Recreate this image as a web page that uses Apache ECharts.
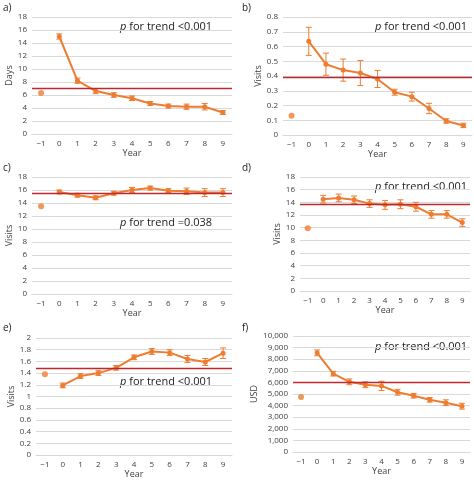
<!DOCTYPE html>
<html><head><meta charset="utf-8">
<script src="https://cdn.jsdelivr.net/npm/echarts@6/dist/echarts.min.js"></script>
<style>html,body{margin:0;padding:0;background:#fff}#c{width:474px;height:482px}</style>
</head><body><div id="c"></div>
<script>
const years = ['\u22121','0','1','2','3','4','5','6','7','8','9'];
const aBase = 6.3, aVals = [15.0,8.2,6.6,6.0,5.5,4.7,4.3,4.2,4.2,3.3], aErr = [0.4,0.4,0.4,0.35,0.35,0.3,0.3,0.4,0.5,0.3], aRef = 7.0;
const bBase = 0.13, bVals = [0.635,0.48,0.44,0.42,0.38,0.29,0.26,0.18,0.095,0.065], bErr = [0.095,0.075,0.075,0.085,0.058,0.02,0.03,0.035,0.015,0.015], bRef = 0.385;
const cBase = 13.5, cVals = [15.7,15.2,14.8,15.5,16.0,16.3,15.9,15.8,15.6,15.6], cErr = [0.3,0.3,0.3,0.3,0.4,0.3,0.3,0.5,0.6,0.6], cRef = 15.5;
const dBase = 9.9, dVals = [14.5,14.7,14.4,13.8,13.6,13.7,13.3,12.1,12.1,10.8], dErr = [0.6,0.6,0.6,0.6,0.7,0.7,0.7,0.6,0.6,0.6], dRef = 13.7;
const eBase = 1.38, eVals = [1.19,1.35,1.40,1.49,1.67,1.77,1.75,1.64,1.59,1.74], eErr = [0.04,0.04,0.04,0.04,0.04,0.05,0.05,0.06,0.06,0.09], eRef = 1.49;
const fBase = 4750, fVals = [8550,6750,6050,5800,5700,5150,4850,4500,4250,3950], fErr = [250,200,250,250,400,250,200,200,250,250], fRef = 6000;
const labels = ['a)','b)','c)','d)','e)','f)'];
const yNames = ['Days','Visits','Visits','Visits','Visits','USD'];
const yMax = [18,0.8,18,18,2,10000];
const yInt = [2,0.1,2,2,0.2,1000];
const pTexts = ['<0.001','<0.001','=0.038','<0.001','<0.001','<0.001'];

const panels = [[aBase,aVals,aErr,aRef],[bBase,bVals,bErr,bRef],[cBase,cVals,cErr,cRef],[dBase,dVals,dErr,dRef],[eBase,eVals,eErr,eRef],[fBase,fVals,fErr,fRef]];
const grids = [
 {left:32,top:17,width:200,height:117},
 {left:283,top:17,width:189,height:118},
 {left:32,top:177,width:200,height:117},
 {left:300,top:177,width:170,height:114},
 {left:36,top:338,width:196,height:117},
 {left:293,top:336,width:177,height:116}
];
const labelPos = [[3,3],[242,3],[3,163],[242,163],[3,323],[242,323]];
const pPos = [[120,21],[375,21],[120,217],[375,181],[120,376],[375,341]];
const O = '#ED7D31';
const grid=[],xAxis=[],yAxis=[],series=[],graphic=[];
panels.forEach((p,i)=>{
  const [base,vals,err,ref]=p;
  grid.push(grids[i]);
  xAxis.push({type:'category',gridIndex:i,data:years,boundaryGap:true,
    axisLine:{lineStyle:{color:'#d9d9d9'}},axisTick:{show:false},
    axisLabel:{color:'#404040',fontSize:8,margin:6,interval:0},
    name:'Year',nameLocation:'middle',nameGap:15,nameTextStyle:{color:'#404040',fontSize:9}});
  yAxis.push({type:'value',gridIndex:i,min:0,max:yMax[i],interval:yInt[i],
    axisLine:{show:false},axisTick:{show:false},
    splitLine:{lineStyle:{color:'#d9d9d9'}},
    axisLabel:{color:'#404040',fontSize:8,margin:5,formatter:v=>i===5?v.toLocaleString('en-US'):String(Math.round(v*10)/10)},
    name:yNames[i],nameLocation:'middle',nameRotate:90,nameGap:i===5?26:i===1?20:14,nameTextStyle:{color:'#404040',fontSize:9}});
  series.push({type:'line',xAxisIndex:i,yAxisIndex:i,data:[null,...vals],symbol:'circle',symbolSize:5,
    itemStyle:{color:O},lineStyle:{color:O,width:2},z:3,animation:false,
    markLine:{symbol:'none',silent:true,label:{show:false},lineStyle:{color:'#C0282D',width:1.3,type:'solid'},data:[{yAxis:ref}]}});
  series.push({type:'scatter',xAxisIndex:i,yAxisIndex:i,data:[[0,base]],symbolSize:6,itemStyle:{color:O},animation:false});
  series.push({type:'custom',xAxisIndex:i,yAxisIndex:i,z:4,animation:false,
    data:vals.map((v,k)=>[k+1,v-err[k],v+err[k]]),
    renderItem:(params,api)=>{
      const lo=api.coord([api.value(0),api.value(1)]),hi=api.coord([api.value(0),api.value(2)]);
      const w=3,st={stroke:O,lineWidth:1};
      return {type:'group',children:[
        {type:'line',shape:{x1:lo[0],y1:lo[1],x2:hi[0],y2:hi[1]},style:st},
        {type:'line',shape:{x1:lo[0]-w,y1:lo[1],x2:lo[0]+w,y2:lo[1]},style:st},
        {type:'line',shape:{x1:hi[0]-w,y1:hi[1],x2:hi[0]+w,y2:hi[1]},style:st}]};
    }});
  graphic.push({type:'text',left:labelPos[i][0],top:labelPos[i][1],style:{text:labels[i],fontSize:10,fill:'#222',fontFamily:'Open Sans'}});
  graphic.push({type:'text',left:pPos[i][0],top:pPos[i][1],style:{
    text:'{i|p} for trend '+pTexts[i],rich:{i:{fontStyle:'italic',fontSize:11,fill:'#222',fontFamily:'Open Sans'}},
    fontSize:11,fill:'#222',fontFamily:'Open Sans'}});
});
const chart=echarts.init(document.getElementById('c'),null,{renderer:'canvas'});
chart.setOption({animation:false,textStyle:{fontFamily:'Open Sans'},grid,xAxis,yAxis,series,graphic});
</script></body></html>
